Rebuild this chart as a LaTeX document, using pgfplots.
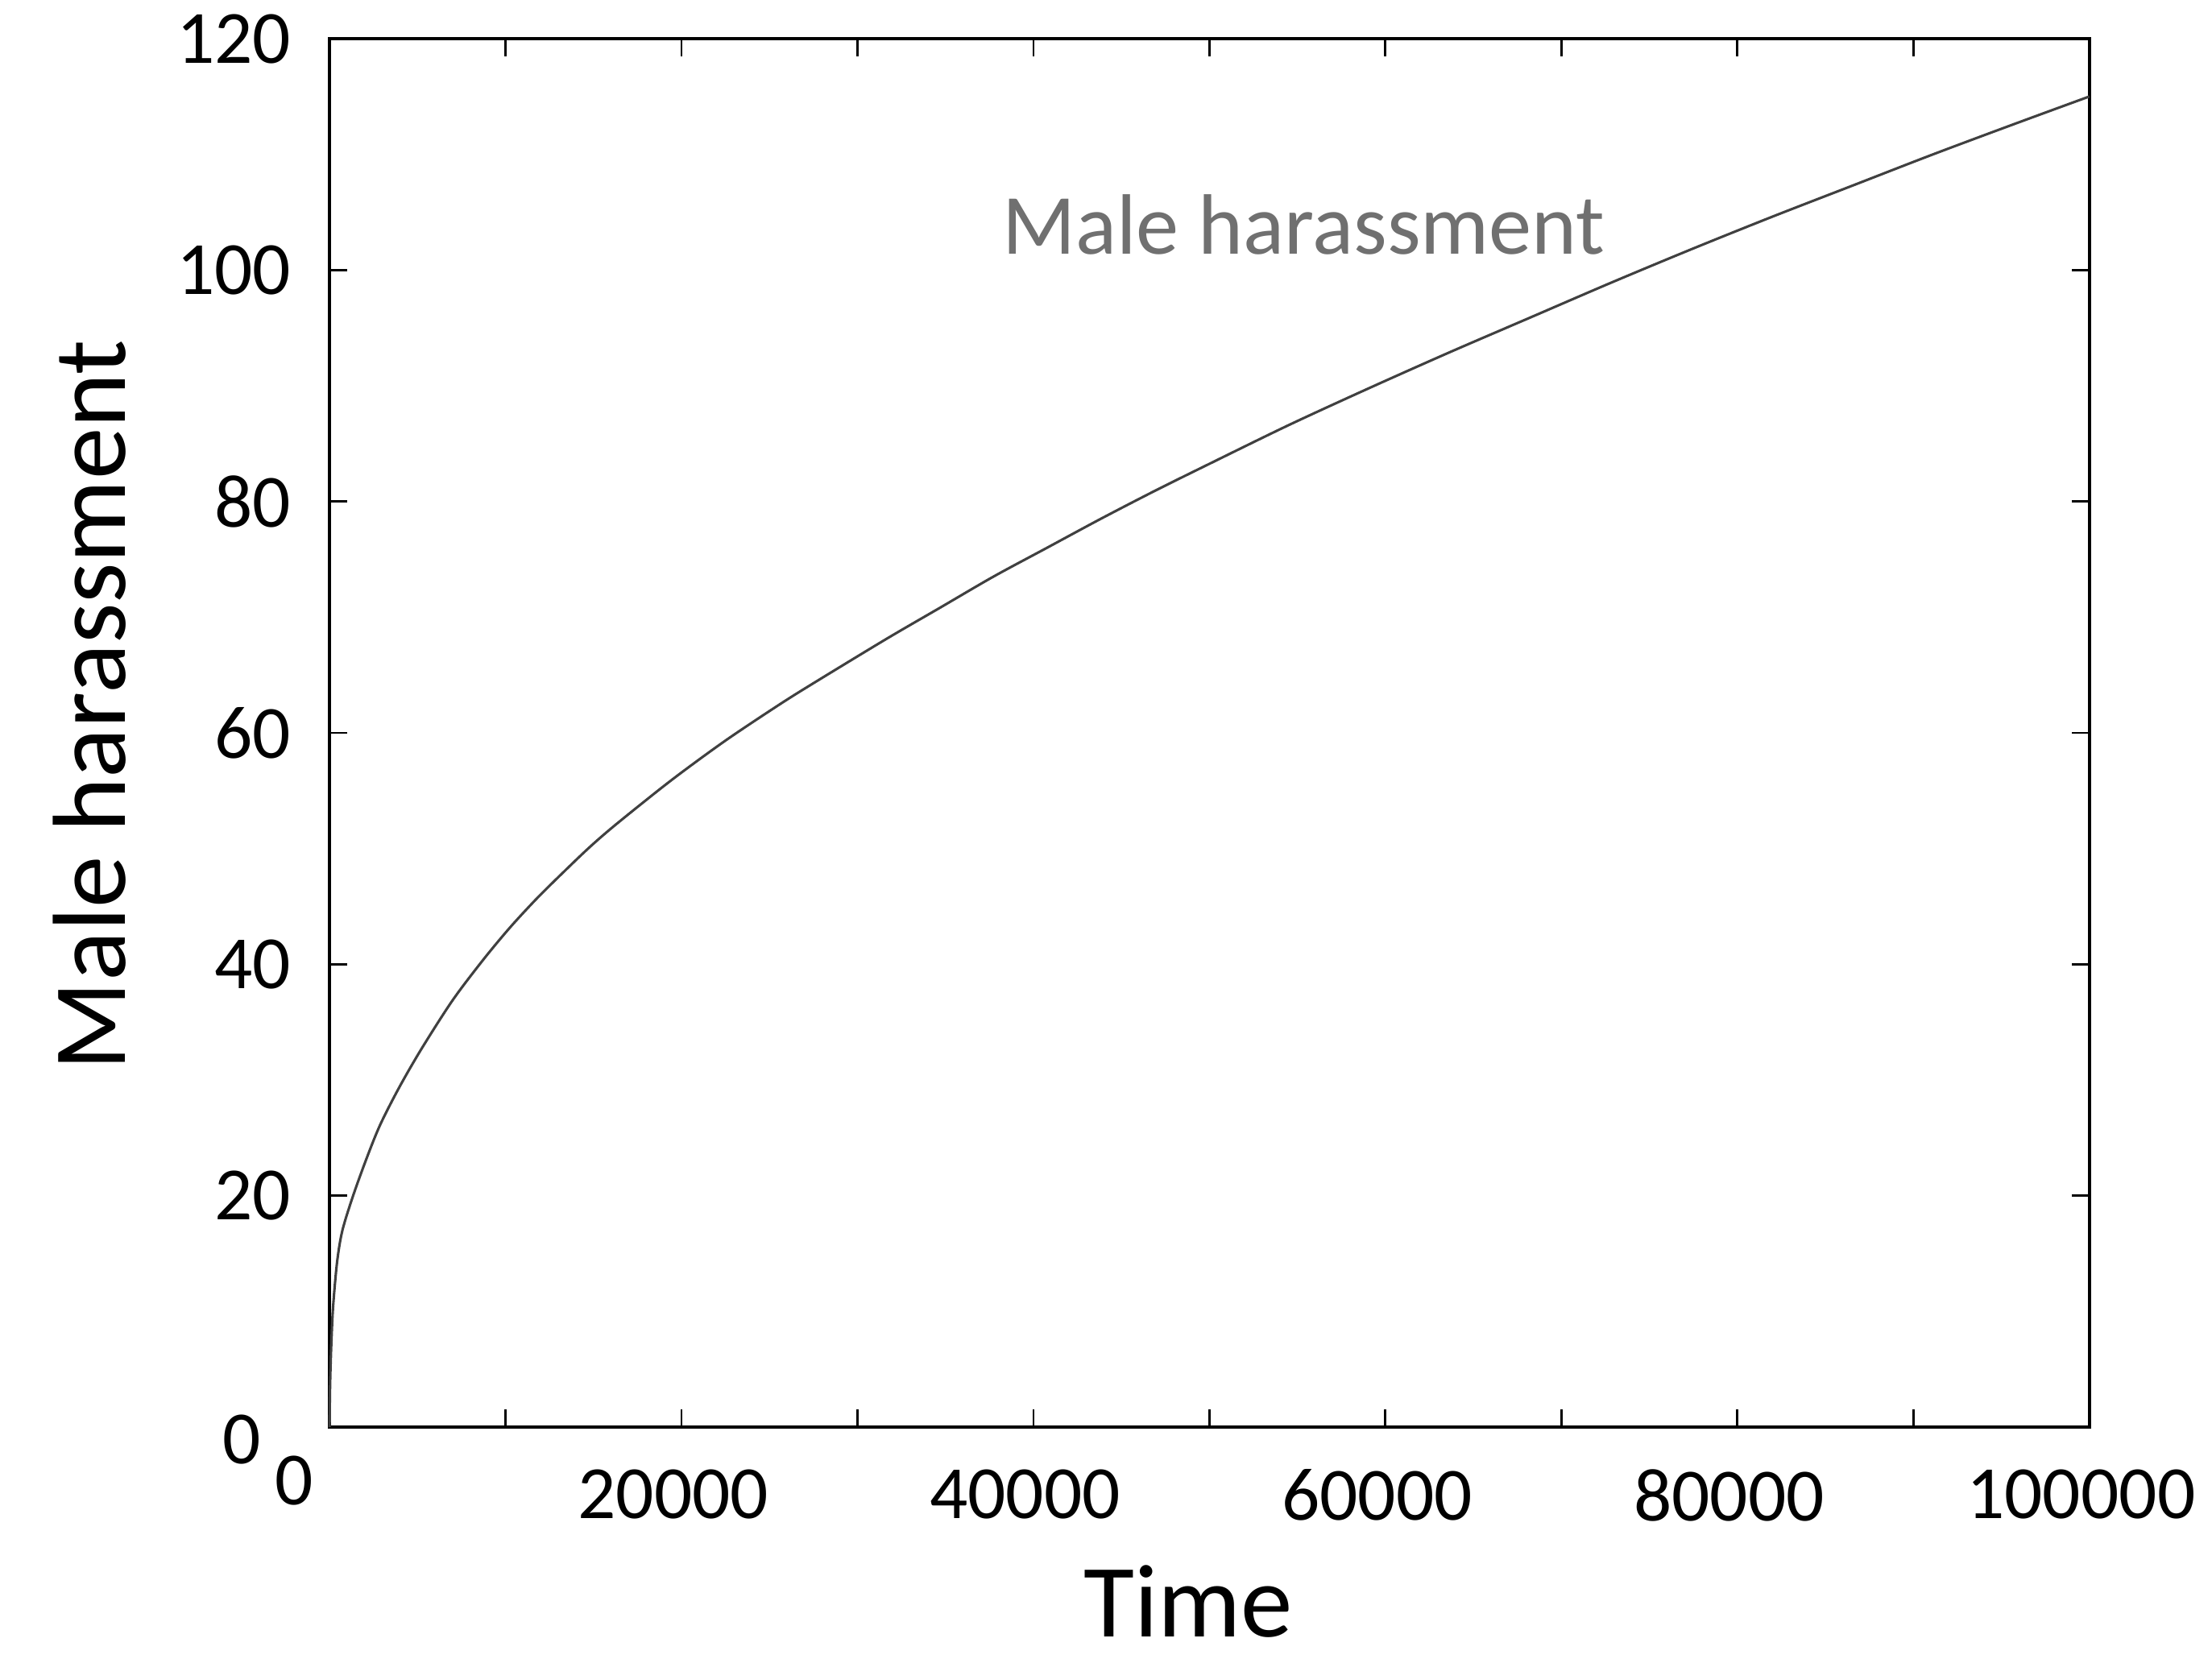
\documentclass[border=0pt]{standalone}
\usepackage{fontspec}
\setmainfont{Carlito}
\usepackage{pgfplots}
\pgfplotsset{compat=1.18}
\usepackage{pgfplotstable}
\definecolor{curve}{RGB}{64,64,64}
\definecolor{annot}{RGB}{112,112,112}

\pgfplotstableread{
t y
0 0
20 2.8
50 4.9
100 7.2
200 10.4
430 14.3
730 17.0
1340 20.0
2100 23.2
2870 26.1
3940 29.3
5230 32.7
7000 36.9
8740 40.4
10270 43.2
11790 45.7
13320 48.0
14840 50.2
16370 52.2
19420 55.9
22470 59.3
25520 62.4
27510 64.3
31625 68.1
34677 70.8
37725 73.5
40778 76.0
43830 78.5
46879 80.9
49931 83.2
54508 86.6
59085 89.8
63661 92.9
68238 95.9
72815 98.9
77391 101.8
81968 104.6
86545 107.3
91121 110.0
95698 112.6
100000 115.0
}\harass

\begin{document}
\begin{tikzpicture}
\begin{axis}[
  scale only axis, width=318.2pt, height=251.1pt,
  at={(0,0)}, anchor=south west,
  xmin=0, xmax=100000, ymin=0, ymax=120,
  xtick={0,10000,...,100000},
  xticklabels={,,20000,,40000,,60000,,80000,,100000},
  ytick={0,20,...,120},
  yticklabels={,20,40,60,80,100,120},
  scaled x ticks=false, scaled y ticks=false,
  tick align=inside,
  major tick length=3.2pt,
  every tick/.style={black, line width=0.4pt},
  axis line style={black, line width=0.6pt},
  tick label style={font=\fontsize{13.6}{16}\selectfont, inner sep=0pt},
  xticklabel style={anchor=north, yshift=-7.5pt, xshift=-1.5pt},
  yticklabel style={anchor=east, xshift=-6.8pt},
  clip=false,
]
\addplot[curve, line width=0.45pt, mark=none, smooth, tension=0.5] table[x=t, y=y] {\harass};
\node[anchor=base west, text=annot, font=\fontsize{15.5}{18}\selectfont, inner sep=0pt] at (axis cs:38178,101.4) {Male harassment};
\node[rotate=90, anchor=base, inner sep=0pt, font=\fontsize{18.8}{22}\selectfont] at ([xshift=-37pt]rel axis cs:0,0.52) {Male harassment};
\node[anchor=base, inner sep=0pt, font=\fontsize{18.8}{22}\selectfont] at ([yshift=-38.0pt]rel axis cs:0.488,0) {Time};
\node[anchor=east, inner sep=0pt, font=\fontsize{13.6}{16}\selectfont] at ([xshift=-12.2pt, yshift=-2.3pt]rel axis cs:0,0) {0};
\node[anchor=north, inner sep=0pt, font=\fontsize{13.6}{16}\selectfont] at ([xshift=-6.4pt, yshift=-5.1pt]rel axis cs:0,0) {0};
\end{axis}
\pgfresetboundingbox
\path[use as bounding box] (-59.6pt,-41.85pt) rectangle (340.4pt,258.1pt);
\end{tikzpicture}
\end{document}
